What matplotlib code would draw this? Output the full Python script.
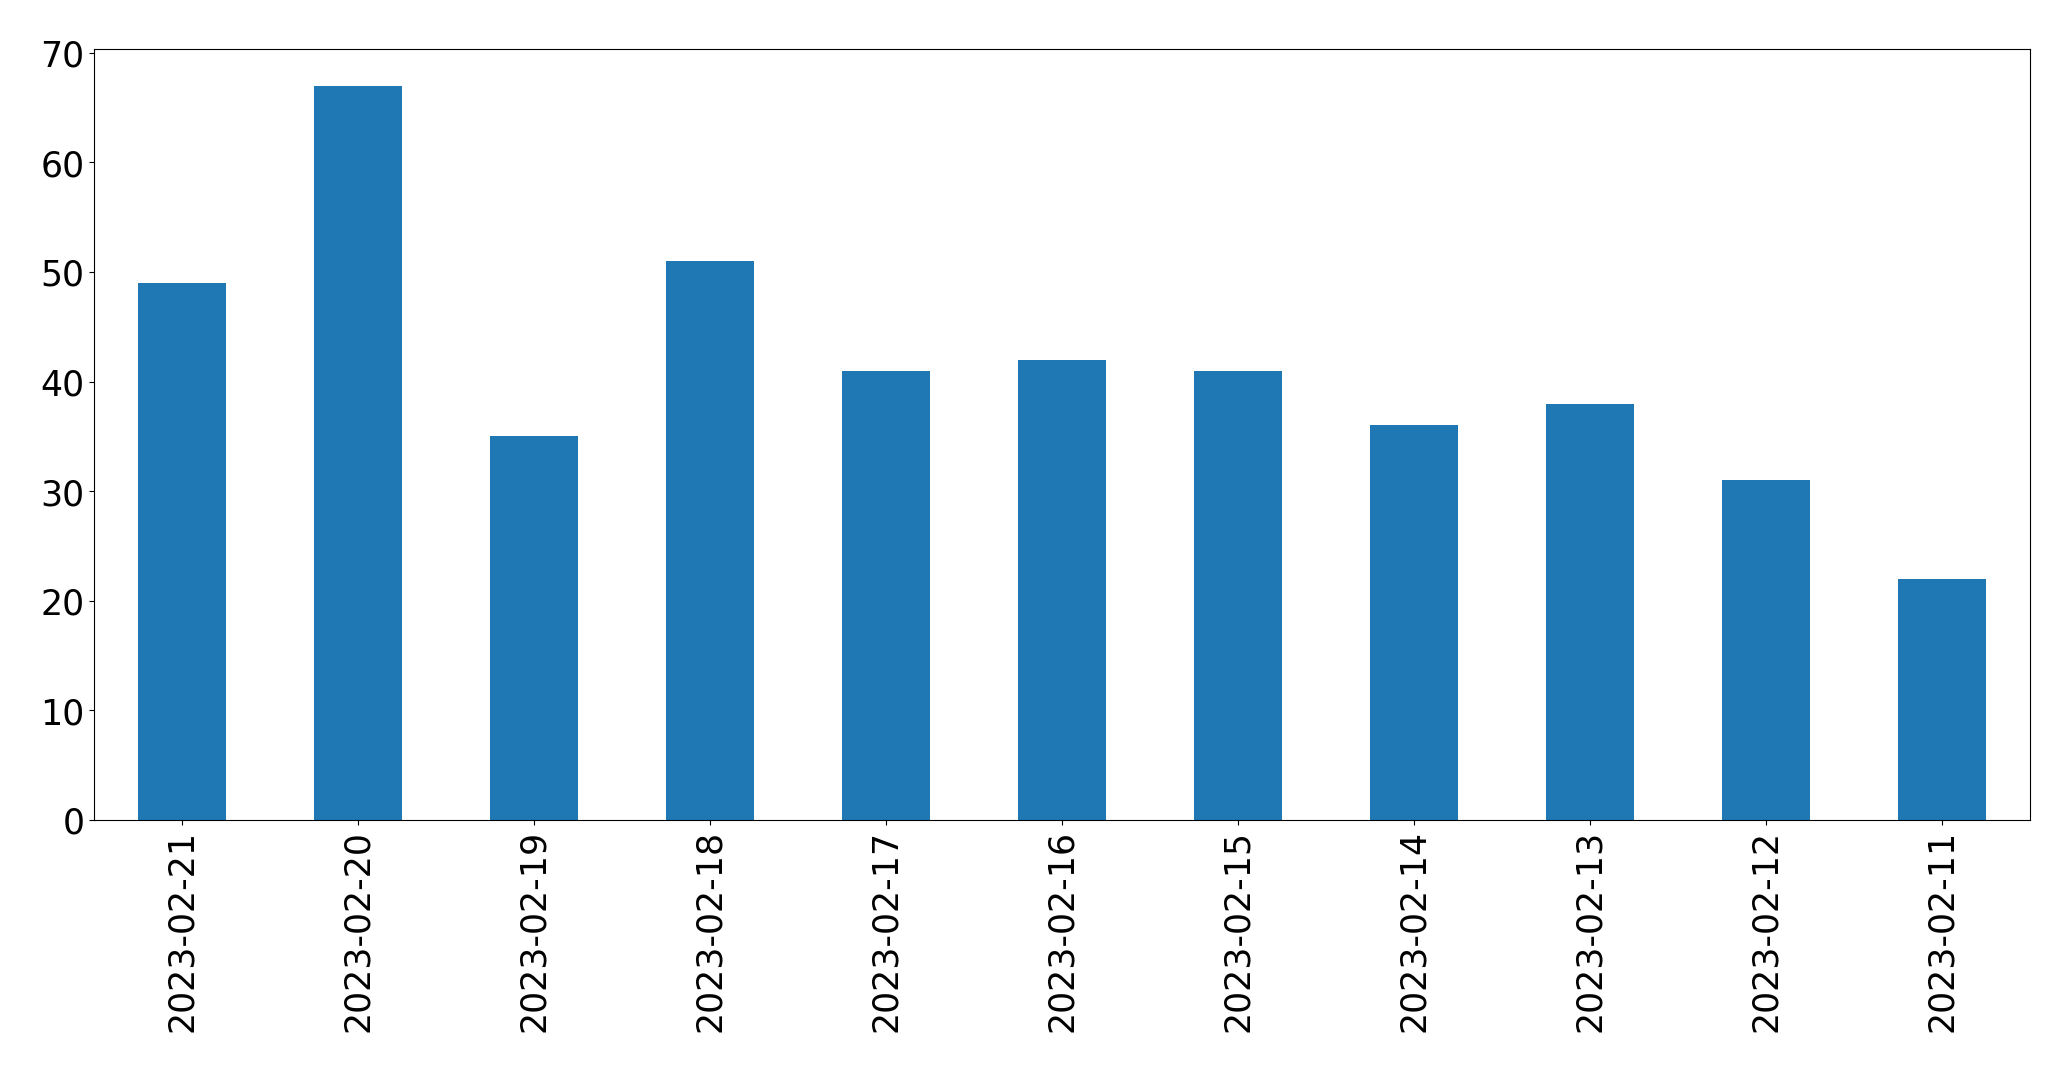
import matplotlib
matplotlib.use("Agg")
import matplotlib.pyplot as plt
import pandas as pd

# daily counts, newest first (as in the source chart)
dates = ["2023-02-21", "2023-02-20", "2023-02-19", "2023-02-18", "2023-02-17",
         "2023-02-16", "2023-02-15", "2023-02-14", "2023-02-13", "2023-02-12",
         "2023-02-11"]
counts = [49, 67, 35, 51, 41, 42, 41, 36, 38, 31, 22]

s = pd.Series(counts, index=dates)

fig = plt.figure(figsize=(20.714, 10.714), dpi=100)
ax = fig.add_axes([0.0454, 0.2344, 0.9348, 0.7194])
s.plot.bar(ax=ax, color="#1f77b4")
ax.tick_params(axis="both", labelsize=25)
ax.set_xlabel("")

fig.savefig("out.png", dpi=100, facecolor="white")
